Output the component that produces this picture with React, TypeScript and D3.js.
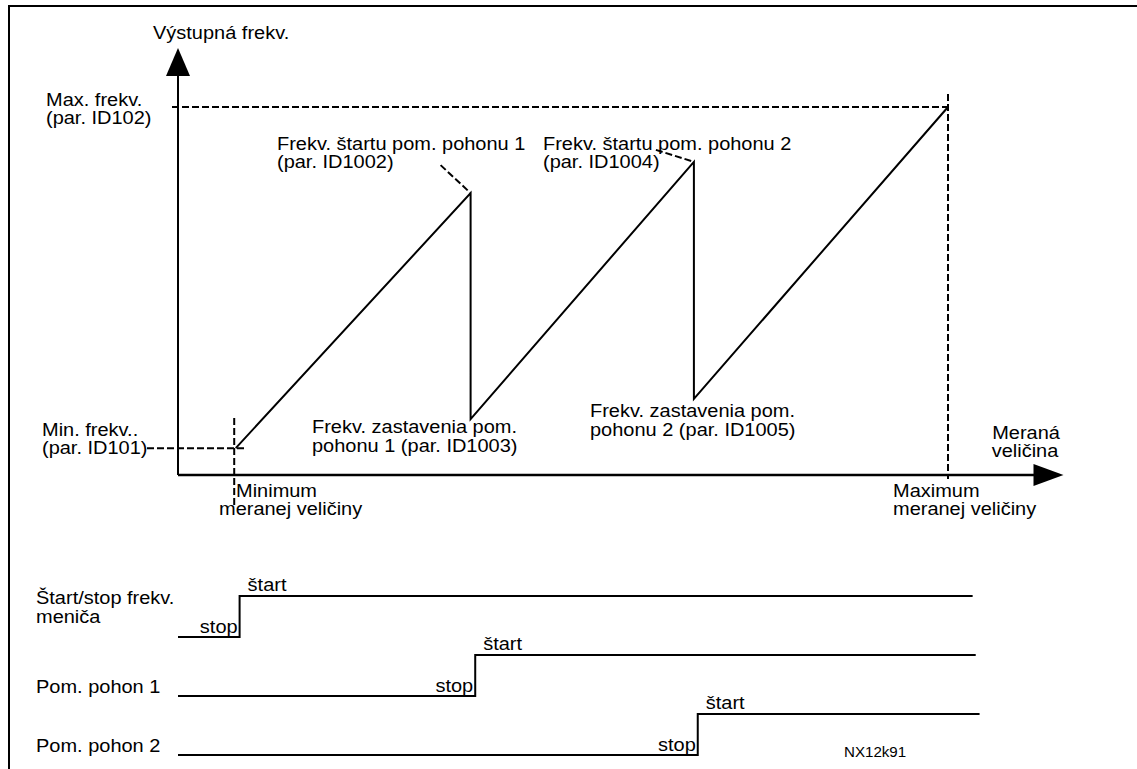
import * as d3 from "d3";

// output frequency vs. measured quantity, both in % of the axis span
const curveMeasured = [7.5, 38, 38, 67, 67, 100];
const curveFreq = [7.3, 76.6, 15.2, 85.1, 20.7, 100];

const minMeasured = 7.3;
const maxMeasured = 100;
const minFreq = 7.3;
const maxFreq = 100;
const axisEndMeasured = 115;
const axisEndFreq = 116;

// start/stop signals under the chart
const signalNames = ["start", "aux1", "aux2"];
const signalLabels = [["Štart/stop frekv.", "meniča"], ["Pom. pohon 1"], ["Pom. pohon 2"]];
const signalStep = [8, 38.6, 67.5];
const signalEnd = [103.2, 103.6, 104.1];

const W = 1137;
const H = 769;
const font = "'Liberation Sans', Arial, sans-serif";

const x = d3.scaleLinear().domain([0, 100]).range([178, 948]);
const y = d3.scaleLinear().domain([0, 100]).range([475, 107]);
const row = d3.scaleBand().domain(signalNames).range([578, 755]);
const levelH = 41;

const T = ({ tx, ty, size = 18.5, anchor = "start", children }: any) => (
  <text
    transform={`translate(${tx},${ty}) scale(1.08,1)`}
    fontSize={size}
    textAnchor={anchor}
    fill="#000"
  >
    {children}
  </text>
);

export default function App() {
  const curve = d3
    .line<number>()
    .x((d) => x(curveMeasured[d]))
    .y((d) => y(curveFreq[d]))(d3.range(curveMeasured.length));

  const x0 = x(0);
  const y0 = y(0);
  const yTip = y(axisEndFreq);
  const xTip = x(axisEndMeasured);

  const peak1 = [x(curveMeasured[1]), y(curveFreq[1])];
  const peak2 = [x(curveMeasured[3]), y(curveFreq[3])];
  const v1 = y(curveFreq[2]);
  const v2 = y(curveFreq[4]);

  const dash = { stroke: "#000", strokeWidth: 2, strokeDasharray: "7,3", fill: "none" };

  return (
    <svg
      width={W}
      height={H}
      style={{ position: "absolute", left: 0, top: 0, background: "#fff" }}
      fontFamily={font}
    >
      {/* frame */}
      <line x1={8} y1={6} x2={W} y2={6} stroke="#000" strokeWidth={2} />
      <line x1={9} y1={6} x2={9} y2={H} stroke="#000" strokeWidth={2} />

      {/* axes */}
      <line x1={x0} y1={y0} x2={x0} y2={yTip + 28} stroke="#000" strokeWidth={2} />
      <polygon points={`${x0},${yTip} ${x0 - 12},${yTip + 28} ${x0 + 12},${yTip + 28}`} fill="#000" />
      <line x1={x0} y1={y0} x2={xTip - 29} y2={y0} stroke="#000" strokeWidth={2.5} />
      <polygon points={`${xTip},${y0} ${xTip - 30},${y0 - 11} ${xTip - 30},${y0 + 11}`} fill="#000" />

      {/* guides */}
      <line x1={x0 - 6} y1={y(maxFreq)} x2={x(maxMeasured)} y2={y(maxFreq)} {...dash} />
      <line x1={x(maxMeasured)} y1={y(103.5)} x2={x(maxMeasured)} y2={y0 + 4} {...dash} />
      <line x1={147} y1={y(minFreq)} x2={x(8.8)} y2={y(minFreq)} {...dash} />
      <line x1={x(minMeasured)} y1={y(15.5)} x2={x(minMeasured)} y2={y0 + 30} {...dash} />
      <line x1={peak1[0] - 30} y1={peak1[1] - 28} x2={peak1[0]} y2={peak1[1]} {...dash} />
      <line x1={peak2[0] - 38} y1={peak2[1] - 12} x2={peak2[0]} y2={peak2[1]} {...dash} />

      {/* frequency curve */}
      <path d={curve || ""} fill="none" stroke="#000" strokeWidth={2} />

      {/* labels */}
      <T tx={153} ty={39}>Výstupná frekv.</T>
      <T tx={46} ty={106}>Max. frekv.</T>
      <T tx={46} ty={124}>(par. ID102)</T>
      <T tx={42} ty={436}>Min. frekv..</T>
      <T tx={42} ty={454}>(par. ID101)</T>
      <T tx={277} ty={150}>Frekv. štartu pom. pohonu 1</T>
      <T tx={277} ty={168}>(par. ID1002)</T>
      <T tx={543} ty={150}>Frekv. štartu pom. pohonu 2</T>
      <T tx={543} ty={168}>(par. ID1004)</T>
      <T tx={312} ty={v1 + 14}>Frekv. zastavenia pom.</T>
      <T tx={312} ty={v1 + 33}>pohonu 1 (par. ID1003)</T>
      <T tx={590} ty={v2 + 18}>Frekv. zastavenia pom.</T>
      <T tx={590} ty={v2 + 37}>pohonu 2 (par. ID1005)</T>
      <T tx={1026} ty={439} anchor="middle">Meraná</T>
      <T tx={1025} ty={457} anchor="middle">veličina</T>
      <T tx={236} ty={497}>Minimum</T>
      <T tx={219} ty={515}>meranej veličiny</T>
      <T tx={893} ty={497}>Maximum</T>
      <T tx={893} ty={515}>meranej veličiny</T>

      {/* signals */}
      {signalNames.map((name, i) => {
        const low = (row(name) || 0) + row.bandwidth();
        const lv = d3.scaleLinear().domain([0, 1]).range([low, low - levelH]);
        const pts: [number, number][] = [
          [0, 0],
          [signalStep[i], 1],
          [signalEnd[i], 1],
        ];
        const d = d3
          .line<[number, number]>()
          .x((p) => x(p[0]))
          .y((p) => lv(p[1]))
          .curve(d3.curveStepAfter)(pts);
        const lines = signalLabels[i];
        const ly = lines.length > 1 ? low - 33 : low - 3;
        return (
          <g key={name}>
            <path d={d || ""} fill="none" stroke="#000" strokeWidth={2} />
            {lines.map((t, j) => (
              <T key={t} tx={36} ty={ly + j * 19}>
                {t}
              </T>
            ))}
            <T tx={x(signalStep[i]) - 2} ty={low - 4} anchor="end">
              stop
            </T>
            <T tx={x(signalStep[i]) + 8} ty={low - levelH - 5}>
              štart
            </T>
          </g>
        );
      })}
      <T tx={844} ty={757} size={14}>
        NX12k91
      </T>
    </svg>
  );
}
